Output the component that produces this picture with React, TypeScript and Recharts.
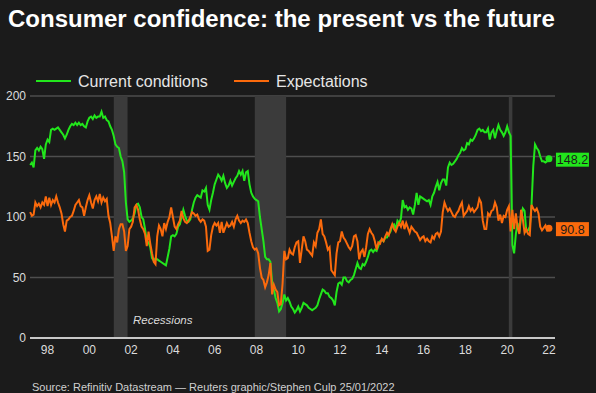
import { LineChart, Line, XAxis, YAxis, CartesianGrid, ReferenceArea } from "recharts";

// monthly series, Mar 1997 .. Jan 2022 (Conference Board indices)
const startYear = 1997;
const startMonth = 3;

const currentConditions = [
  143, 145, 141, 155, 157, 155, 158, 156, 148, 160, // 1997
  164, 162, 172, 173, 172, 173, 174, 172, 170, 168, 165, 168,
  172, 175, 177, 176, 178, 176, 178, 176, 177, 175, 174, 179,
  182, 183, 181, 184, 182, 183, 183, 187, 182, 183, 180, 179, // 2000
  175, 172, 167, 160, 158, 157, 150, 146, 137, 112, 98, 96,
  97, 99, 103, 110, 111, 108, 100, 98, 90, 80, 79, 75,
  66, 64, 66, 65, 64, 63, 62, 61, 60, 67, 74, 84,
  85, 84, 86, 92, 94, 100, 106, 101, 97, 96, 98, 106,
  112, 116, 118, 117, 116, 122, 121, 124, 110, 106, 114, 120, // 2005
  127, 131, 135, 133, 130, 134, 128, 124, 126, 130, 126, 129,
  132, 134, 138, 135, 138, 130, 137, 138, 127, 120, 117, 115,
  114, 113, 100, 90, 80, 67, 65, 65, 63, 46, 40, 33,
  29, 22, 24, 29, 36, 31, 33, 30, 26, 24, 21, 23,
  26, 22, 25, 29, 28, 27, 25, 24, 23, 24, 25, 27, // 2010
  32, 36, 40, 39, 37, 37, 34, 33, 31, 27, 38, 45,
  46, 44, 50, 50, 47, 46, 48, 49, 52, 57, 62, 58,
  57, 61, 60, 63, 67, 72, 73, 71, 73, 72, 76, 80,
  81, 80, 83, 83, 86, 88, 93, 94, 90, 97, 95, 99,
  114, 108, 109, 106, 108, 107, 102, 110, 120, 110, 117, 116, // 2015
  115, 114, 113, 114, 110, 117, 120, 125, 129, 122, 128, 131,
  131, 126, 141, 145, 143, 144, 146, 148, 151, 153, 157, 155,
  156, 161, 160, 164, 163, 165, 168, 172, 173, 171, 172, 170,
  170, 173, 164, 170, 172, 165, 171, 176, 172, 170, 167, 170,
  175, 170, 167, 77, 70, 86, 95, 87, 100, 107, 105, 88, // 2020
  89, 92, 110, 142, 160, 157, 155, 150, 146, 146, 145, 146,
  148.2,
];

const expectations = [
  104, 101, 102, 112, 109, 111, 108, 112, 110, 117, // 1997
  109, 116, 110, 114, 112, 117, 112, 108, 103, 94, 88, 97,
  98, 100, 101, 105, 110, 112, 114, 109, 108, 101, 108, 114,
  118, 112, 107, 114, 117, 113, 119, 112, 116, 113, 115, 101, // 2000
  95, 84, 72, 84, 79, 90, 94, 94, 88, 72, 76, 90,
  92, 96, 108, 110, 106, 98, 92, 90, 86, 76, 88, 78,
  70, 63, 61, 84, 93, 90, 84, 95, 90, 96, 100, 108,
  100, 92, 90, 94, 97, 105, 99, 96, 95, 97, 100, 104,
  103, 101, 102, 98, 96, 98, 97, 92, 72, 73, 85, 92, // 2005
  95, 93, 95, 87, 96, 87, 91, 95, 92, 93, 96, 92,
  98, 101, 97, 95, 97, 96, 98, 95, 87, 80, 75, 73,
  74, 70, 58, 50, 48, 42, 46, 52, 62, 36, 44, 40,
  38, 27, 28, 45, 72, 65, 66, 73, 70, 69, 75, 79,
  80, 62, 73, 84, 80, 73, 72, 70, 68, 79, 76, 87, // 2010
  90, 98, 86, 84, 79, 73, 75, 56, 54, 52, 70, 79,
  80, 88, 83, 81, 78, 75, 73, 76, 84, 85, 80, 65,
  71, 73, 67, 75, 86, 90, 87, 85, 80, 73, 79, 78,
  82, 80, 84, 87, 85, 90, 94, 90, 88, 92, 95, 92,
  97, 90, 95, 91, 87, 92, 90, 88, 87, 84, 81, 83, // 2015
  84, 80, 82, 80, 79, 84, 82, 86, 87, 84, 88, 104,
  112, 108, 105, 107, 104, 101, 100, 103, 105, 109, 112, 101,
  103, 105, 109, 105, 107, 104, 106, 108, 115, 112, 97, 90,
  90, 103, 101, 105, 106, 112, 108, 97, 102, 95, 101, 100,
  106, 109, 88, 106, 90, 103, 91, 86, 106, 98, 87, 90, // 2020
  86, 85, 110, 107, 105, 107, 103, 92, 89, 91, 93, 89,
  90.8,
];

const xTicks = [1998, 2000, 2002, 2004, 2006, 2008, 2010, 2012, 2014, 2016, 2018, 2020, 2022];
const xTickLabels = ["98", "00", "02", "04", "06", "08", "10", "12", "14", "16", "18", "20", "22"];
const yTicks = [0, 50, 100, 150, 200];

// US recessions (decimal years)
const recessionStart = [2001.17, 2007.92, 2020.08];
const recessionEnd = [2001.83, 2009.42, 2020.25];

const GREEN = "#22e61c";
const ORANGE = "#fb6a0c";
const BG = "#1b1b1b";
const FONT = "'Liberation Sans', Arial, Helvetica, sans-serif";

const data = currentConditions.map((v, i) => ({
  t: startYear + (startMonth - 1 + i) / 12,
  current: v,
  expectations: expectations[i],
}));
const last = data.length - 1;

function endDot(color: string, value: number) {
  return (props: any) => {
    const { cx, cy, index } = props;
    if (index !== last) return <g key={`d${index}`} />;
    return (
      <g key={`d${index}`}>
        <circle cx={cx} cy={cy} r={3.5} fill={color} />
        <rect x={cx + 7} y={cy - 6} width={33} height={14} fill={color} />
        <text
          x={cx + 23.5}
          y={cy + 5.5}
          textAnchor="middle"
          fontSize={12.5}
          fontFamily={FONT}
          fill="#1b1b1b"
        >
          {value.toFixed(1)}
        </text>
      </g>
    );
  };
}

export default function App() {
  return (
    <div
      style={{
        position: "absolute",
        left: 0,
        top: 0,
        width: 596,
        height: 393,
        background: BG,
        overflow: "hidden",
        fontFamily: FONT,
      }}
    >
      <LineChart
        width={596}
        height={393}
        data={data}
        margin={{ top: 96, right: 41, bottom: 25, left: 0 }}
      >
        <CartesianGrid vertical={false} stroke="#4e4e4e" strokeWidth={1.5} />
        {recessionStart.map((s, i) => (
          <ReferenceArea
            key={s}
            x1={s}
            x2={recessionEnd[i]}
            y1={0}
            y2={200}
            fill="#3b3b3b"
            fillOpacity={1}
            stroke="none"
          />
        ))}
        <XAxis
          dataKey="t"
          type="number"
          domain={[1997.16, 2022.29]}
          ticks={xTicks}
          tickFormatter={(v: number) => xTickLabels[xTicks.indexOf(v)]}
          height={30}
          tickLine={false}
          tickSize={0}
          tickMargin={7}
          axisLine={{ stroke: "#c8c8c8", strokeWidth: 2 }}
          tick={{ fill: "#dcdcdc", fontSize: 12, fontFamily: FONT }}
          interval={0}
        />
        <YAxis
          domain={[0, 200]}
          ticks={yTicks}
          width={30}
          axisLine={false}
          tickLine={false}
          tickSize={0}
          tickMargin={4}
          tick={{ fill: "#dcdcdc", fontSize: 12, fontFamily: FONT }}
        />
        <Line
          dataKey="current"
          stroke={GREEN}
          strokeWidth={2}
          dot={endDot(GREEN, 148.2)}
          activeDot={false}
          isAnimationActive={false}
        />
        <Line
          dataKey="expectations"
          stroke={ORANGE}
          strokeWidth={2}
          dot={endDot(ORANGE, 90.8)}
          activeDot={false}
          isAnimationActive={false}
        />
      </LineChart>
      <svg
        width={596}
        height={393}
        style={{ position: "absolute", left: 0, top: 0, pointerEvents: "none" }}
      >
        <text x={8} y={27} fontSize={24} fontWeight="bold" fill="#ffffff" fontFamily={FONT}>
          Consumer confidence: the present vs the future
        </text>
        <line x1={36} x2={71} y1={81} y2={81} stroke={GREEN} strokeWidth={2} />
        <text x={78} y={86.5} fontSize={16} fill="#e6e6e6" fontFamily={FONT}>
          Current conditions
        </text>
        <line x1={234} x2={269} y1={81} y2={81} stroke={ORANGE} strokeWidth={2} />
        <text x={276} y={86.5} fontSize={16} fill="#e6e6e6" fontFamily={FONT}>
          Expectations
        </text>
        <text x={133} y={324} fontSize={11.5} fontStyle="italic" fill="#dcdcdc" fontFamily={FONT}>
          Recessions
        </text>
        <text x={32} y={391} fontSize={11} fill="#d0d0d0" fontFamily={FONT}>
          Source: Refinitiv Datastream — Reuters graphic/Stephen Culp 25/01/2022
        </text>
      </svg>
    </div>
  );
}
